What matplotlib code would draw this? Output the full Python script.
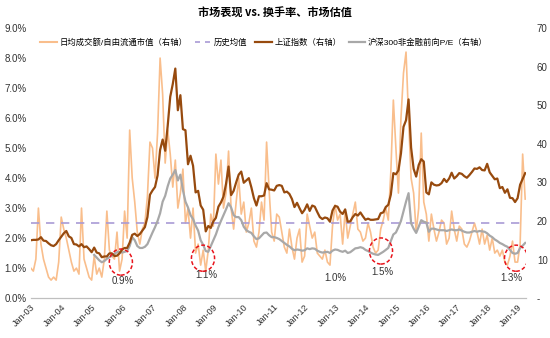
import numpy as np
import matplotlib
matplotlib.use('Agg')
import matplotlib.pyplot as plt
from matplotlib.patches import Ellipse
from matplotlib.lines import Line2D

plt.rcParams['font.family'] = ['Liberation Sans', 'Noto Sans CJK SC', 'DejaVu Sans']

# monthly data, Jan-2003 .. Apr-2019
turnover = [  # 日均成交额/自由流通市值, %
    1.0, 0.9, 1.3, 3.0, 1.8, 1.3, 1.0, 0.7, 0.6, 0.7, 0.6, 1.2,
    2.7, 2.3, 2.0, 1.6, 1.2, 0.9, 1.0, 0.8, 3.0, 1.3, 1.0, 0.7,
    0.6, 1.4, 0.8, 1.0, 0.7, 1.3, 2.9, 1.6, 1.4, 1.3, 2.2, 0.9,
    1.3, 2.9, 2.0, 5.6, 4.0, 3.2, 2.2, 1.8, 2.3, 2.5, 3.4, 5.2,
    5.0, 4.0, 5.5, 8.0, 6.8, 4.5, 5.6, 4.8, 3.7, 4.6, 3.0, 3.5,
    4.3, 2.5, 3.0, 2.0, 3.0, 1.5, 1.8, 1.1, 1.6, 0.9, 1.6, 2.8,
    2.4, 4.8, 3.8, 4.6, 3.0, 3.5, 4.9, 3.0, 2.3, 3.2, 4.0, 2.8,
    3.2, 2.2, 2.5, 3.0, 1.9, 1.7, 2.2, 3.2, 2.6, 5.2, 3.6, 2.2,
    1.9, 2.8, 2.7, 2.2, 1.7, 1.5, 2.3, 1.7, 1.3, 2.0, 2.3, 1.2,
    1.4, 2.8, 2.4, 2.0, 2.2, 1.5, 1.4, 1.3, 1.6, 1.2, 1.1, 2.4,
    3.1, 2.6, 2.8, 1.8, 2.9, 2.0, 2.4, 2.8, 3.2, 2.3, 2.2, 1.9,
    2.0, 2.5, 2.2, 1.7, 1.5, 1.6, 2.3, 2.6, 3.0, 2.6, 4.2, 6.6,
    5.0, 3.5, 6.0, 7.5, 8.2, 6.0, 4.0, 3.5, 2.2, 3.0, 5.5, 3.2,
    2.8, 1.9, 2.8, 2.3, 1.9, 2.2, 2.6, 2.5, 1.8, 2.0, 2.9, 2.3,
    1.9, 2.4, 2.3, 1.8, 1.7, 1.9, 2.2, 2.5, 2.2, 1.8, 2.3, 1.8,
    2.1, 1.6, 2.0, 1.5, 1.6, 1.4, 1.6, 1.2, 1.1, 1.4, 1.9, 1.2,
    1.2, 1.8, 4.8, 3.3,
]
hist_mean = 2.5

sh_index = [  # 上证指数 / 100
    15.0, 15.1, 15.1, 15.2, 15.8, 14.9, 14.8, 14.2, 13.7, 13.5, 14.0, 15.0,
    15.9, 16.8, 17.4, 16.0, 15.6, 14.0, 13.9, 13.4, 14.0, 13.2, 13.4, 12.7,
    11.9, 13.1, 11.8, 11.6, 10.6, 10.8, 10.8, 11.6, 11.6, 10.9, 11.0, 11.6,
    12.6, 13.0, 13.0, 14.4, 16.4, 16.7, 16.1, 16.6, 17.5, 18.4, 21.0, 26.8,
    27.9, 28.8, 31.8, 38.4, 41.1, 38.2, 44.7, 52.2, 55.5, 59.5, 48.7, 52.6,
    43.8, 43.5, 34.7, 36.9, 34.3, 27.4, 27.8, 24.0, 22.9, 17.3, 18.7, 18.2,
    19.9, 20.8, 23.7, 24.8, 26.3, 29.6, 34.1, 26.7, 27.8, 30.0, 32.0, 32.8,
    29.9, 30.5, 31.1, 28.7, 25.9, 24.0, 26.4, 26.4, 26.6, 29.8, 28.2, 28.1,
    27.9, 29.1, 29.3, 29.1, 27.4, 27.6, 27.0, 25.7, 23.6, 24.7, 23.3, 22.0,
    22.9, 24.3, 22.6, 24.0, 23.7, 22.3, 21.0, 20.5, 20.9, 20.7, 19.8, 22.7,
    23.9, 23.7, 22.4, 21.8, 23.0, 19.8, 19.9, 21.0, 21.8, 21.4, 22.2, 21.2,
    20.3, 20.6, 20.3, 20.3, 20.4, 20.5, 22.0, 22.2, 23.6, 24.2, 26.8, 32.4,
    32.1, 33.1, 37.5, 44.4, 46.1, 51.5, 39.0, 33.5, 31.5, 34.5, 36.0, 35.4,
    27.4, 26.9, 30.0, 29.4, 29.2, 29.3, 29.8, 30.9, 30.1, 31.0, 32.5, 31.0,
    31.6, 32.4, 32.2, 31.6, 31.2, 31.9, 32.7, 33.6, 33.5, 33.9, 33.2, 33.1,
    34.8, 32.6, 31.7, 30.8, 31.0, 28.5, 28.8, 27.3, 28.2, 26.0, 25.9, 24.9,
    25.9, 29.4, 30.9, 32.4,
]

pe_hs300 = [  # 沪深300非金融前向P/E
    np.nan] * 25 + [
    11.2, 10.5, 9.8, 9.3, 9.6, 10.2, 10.6, 11.0, 11.5, 11.9, 12.0,
    11.8, 12.0, 12.2, 13.5, 15.8, 15.0, 13.5, 13.0, 13.0, 13.3, 14.0, 15.5,
    17.0, 18.4, 20.0, 22.0, 25.0, 26.5, 29.0, 31.0, 32.0, 33.2, 30.5, 32.0,
    28.0, 25.0, 23.5, 21.5, 20.5, 18.8, 17.5, 15.0, 13.8, 12.2, 12.0, 13.5,
    15.0, 16.5, 18.4, 20.0, 21.5, 23.0, 24.6, 23.5, 21.5, 21.0, 21.0, 20.2,
    18.5, 17.6, 17.2, 16.9, 16.0, 15.3, 15.5, 16.2, 16.9, 17.0, 16.3, 15.8,
    15.8, 15.6, 15.3, 14.8, 14.3, 13.8, 13.4, 12.8, 12.4, 12.6, 12.5, 12.3,
    12.4, 12.9, 12.7, 12.9, 12.8, 12.3, 12.0, 11.8, 11.9, 12.0, 11.7, 12.3,
    12.6, 12.5, 12.2, 12.0, 12.3, 11.7, 11.9, 12.4, 12.9, 13.0, 13.2, 13.0,
    12.5, 12.2, 11.8, 11.5, 11.3, 11.2, 11.6, 12.0, 12.5, 13.0, 14.8, 16.5,
    17.0, 18.4, 20.0, 22.5, 25.0, 27.2, 19.4, 18.0, 16.9, 18.5, 20.2, 19.8,
    19.6, 17.2, 18.0, 18.0, 17.8, 17.6, 17.6, 17.6, 17.4, 17.6, 17.8, 17.6,
    17.6, 17.8, 17.5, 17.2, 17.0, 17.0, 17.2, 17.4, 17.2, 17.4, 17.3, 17.2,
    16.8, 16.2, 15.8, 15.2, 14.8, 14.3, 14.0, 13.6, 13.3, 12.5, 11.7, 11.5,
    11.7, 13.0, 13.6, 14.3,
]

years = list(range(2003, 2020))
year_labels = ['Jan-%02d' % (y % 100) for y in years]

# circled lows: (year, pct, label x, label y, label)
lows = [(2005.96, 1.20, 2006.03, 0.57, '0.9%'),
        (2008.66, 1.33, 2008.76, 0.77, '1.1%'),
        (2014.51, 1.57, 2014.55, 0.87, '1.5%'),
        (2018.95, 1.33, 2018.79, 0.67, '1.3%')]
extra_label = (2013.0, 0.67, '1.0%')

t = 2003 + np.arange(len(turnover)) / 12.0

c_orange = '#F9BE8C'
c_mean = '#A99BD6'
c_brown = '#974A0E'
c_gray = '#A8A8A8'

fig = plt.figure(figsize=(5.5, 3.38), dpi=100)
ax = fig.add_axes([0.056, 0.118, 0.900, 0.799])
ax2 = ax.twinx()

ax.plot(t, turnover, color=c_orange, lw=1.2, zorder=2)
ax.axhline(hist_mean, color=c_mean, lw=1.2, ls=(0, (5, 4)), zorder=3)
ax2.plot(t, pe_hs300, color=c_gray, lw=1.6, zorder=2)
ax2.plot(t, sh_index, color=c_brown, lw=1.6, zorder=3)

ax.set_ylim(0, 9)
ax2.set_ylim(0, 70)
ax.set_xlim(2003, t[-1] + 0.02)
ax.set_yticks(np.arange(0, 9.1, 1))
ax.set_yticklabels(['%.1f%%' % v for v in np.arange(0, 9.1, 1)], fontsize=7)
ax2.set_yticks(np.arange(0, 71, 10))
ax2.set_yticklabels(['-'] + [str(v) for v in range(10, 71, 10)], fontsize=7)
ax.set_xticks(years)
ax.set_xticklabels(year_labels, rotation=45, ha='right', rotation_mode='anchor', fontsize=6.5)

for a in (ax, ax2):
    for s in ['top', 'left', 'right']:
        a.spines[s].set_visible(False)
    a.spines['bottom'].set_color('#BFBFBF')
    a.tick_params(length=0, colors='#333333')
ax.tick_params(axis='y', pad=3)
ax2.tick_params(axis='y', pad=8)
ax.tick_params(axis='x', pad=3)

for cx, cy, lx, ly, lab in lows:
    ax2.add_patch(Ellipse((cx, cy * 70 / 9), 0.76, 0.87 * 70 / 9, fill=False,
                          ec='#E8141C', lw=1.1, ls=(0, (2.5, 1.5)), zorder=5))
    ax2.text(lx, ly * 70 / 9, lab, fontsize=7, color='#333333', ha='center', va='center')
ax2.text(extra_label[0], extra_label[1] * 70 / 9, extra_label[2], fontsize=7,
         color='#333333', ha='center', va='center')

fig.text(0.5, 0.96, '市场表现 vs. 换手率、市场估值', ha='center', va='center',
         fontsize=8, fontweight='bold', family=['Noto Sans CJK SC'])

handles = [Line2D([], [], color=c_orange, lw=1.5),
           Line2D([], [], color=c_mean, lw=1.2, ls=(0, (3, 3))),
           Line2D([], [], color=c_brown, lw=1.6),
           Line2D([], [], color=c_gray, lw=1.6)]
labels = ['日均成交额/自由流通市值（右轴）', '历史均值', '上证指数（右轴）',
          '沪深300非金融前向P/E（右轴）']
fig.legend(handles, labels, loc='center', bbox_to_anchor=(0.48, 0.875), ncol=4,
           frameon=False, fontsize=6, handlelength=2.0, handletextpad=0.3,
           columnspacing=0.9)

fig.savefig('out.png', dpi=100)
